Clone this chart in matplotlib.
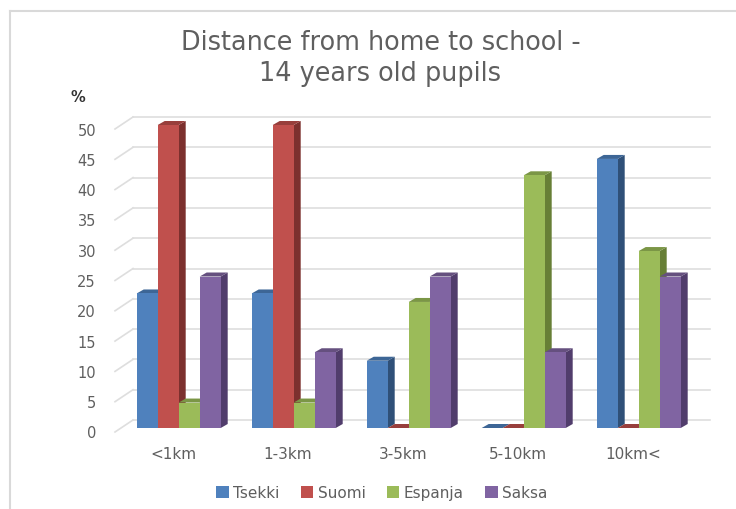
import numpy as np
import matplotlib
matplotlib.use('Agg')
import matplotlib.pyplot as plt
from matplotlib.patches import Patch, Polygon
from matplotlib.transforms import Affine2D

plt.rcParams['font.family'] = 'DejaVu Sans'

categories = ['<1km', '1-3km', '3-5km', '5-10km', '10km<']
series_names = ['Tsekki', 'Suomi', 'Espanja', 'Saksa']
tsekki = [22.2, 22.2, 11.1, 0, 44.4]
suomi = [50, 50, 0, 0, 0]
espanja = [4.2, 4.2, 20.8, 41.7, 29.2]
saksa = [25, 12.5, 25, 12.5, 25]
yticks = [0, 5, 10, 15, 20, 25, 30, 35, 40, 45, 50]

front_colors = ['#4F81BD', '#C0504D', '#9BBB59', '#8064A2']
side_colors = ['#2F5078', '#7C302E', '#677F36', '#513D6C']
top_colors = ['#3D6696', '#983F3C', '#7B9646', '#65507F']
TEXT = '#5F5F5F'
GRID = '#DEDEDE'

W, H = 736, 510
fig = plt.figure(figsize=(W / 100, H / 100), dpi=100, facecolor='white')

# axes = plane of the bar fronts, in reference pixels
left, right, top, bottom = 115, 692, 126, 429
ax = fig.add_axes([left / W, 1 - bottom / H, (right - left) / W, (bottom - top) / H])
ax.set_xlim((left - 178.7) / 115, (right - 178.7) / 115)
ax.set_ylim(0, 50)
ax.axis('off')

# offset of the back wall, display pixels
back = ax.transData + Affine2D().translate(18, 8)

xmin, xmax = ax.get_xlim()
for v in yticks:
    # back wall line + little diagonal on the left side
    ax.plot([xmin, xmax], [v, v], color=GRID, lw=1.2, transform=back, clip_on=False, zorder=1)
    x0, y0 = (ax.transData + Affine2D().translate(0, -4)).transform((xmin, v))
    ax.plot([x0, x0 + 18], [y0, y0 + 12], color=GRID, lw=1.2,
            transform=None, clip_on=False, zorder=1)
    ax.text(96, y0 - 1, str(v), transform=None, ha='right', va='center',
            fontsize=10.5, color=TEXT)

bar_w = 21 / 115
data = [tsekki, suomi, espanja, saksa]
z = 2
for i in range(len(categories)):
    for j, vals in enumerate(data):
        v = vals[i]
        x0 = i + (j - 2) * bar_w
        x1 = x0 + bar_w
        # depth corners, 7px right and 4px up
        pts = ax.transData.transform([(x1, 0), (x1, v), (x0, v)])
        s = ax.transData.inverted().transform(pts + [7, 4])
        ax.add_patch(Polygon([(x1, 0), (x1, v), s[1], s[0]], closed=True,
                             fc=side_colors[j], ec='none', clip_on=False, zorder=z))
        ax.add_patch(Polygon([(x0, v), (x1, v), s[1], s[2]], closed=True,
                             fc=top_colors[j], ec='none', clip_on=False, zorder=z))
        ax.bar(x0, v, width=bar_w, align='edge', color=front_colors[j], clip_on=False, zorder=z + 1)
        z += 2

for i, cat in enumerate(categories):
    ax.text(i - 0.05, -4.2, cat, ha='center', va='center', fontsize=11, color=TEXT, clip_on=False)

fig.text(381 / W, 1 - 43 / H, 'Distance from home to school -', ha='center', va='center',
         fontsize=18.4, color=TEXT)
fig.text(380 / W, 1 - 74 / H, '14 years old pupils', ha='center', va='center',
         fontsize=18.4, color=TEXT)
fig.text(78 / W, 1 - 97 / H, '%', ha='center', va='center', fontsize=10.5,
         fontweight='bold', color='#333333')

handles = [Patch(fc=c, ec='none') for c in front_colors]
fig.legend(handles, series_names, loc='center', bbox_to_anchor=(382 / W, 1 - 494 / H),
           ncol=4, frameon=False, fontsize=11, labelcolor=TEXT, handlelength=0.8,
           handleheight=0.8, handletextpad=0.3, columnspacing=1.4)

# frame of the pasted picture
fig.add_artist(plt.Line2D([10 / W, 10 / W], [0, 1 - 12 / H], color='#D9D9D9', lw=1.5))
fig.add_artist(plt.Line2D([10 / W, 1], [1 - 12 / H, 1 - 12 / H], color='#D9D9D9', lw=1.5))

fig.savefig('out.png', dpi=100)
